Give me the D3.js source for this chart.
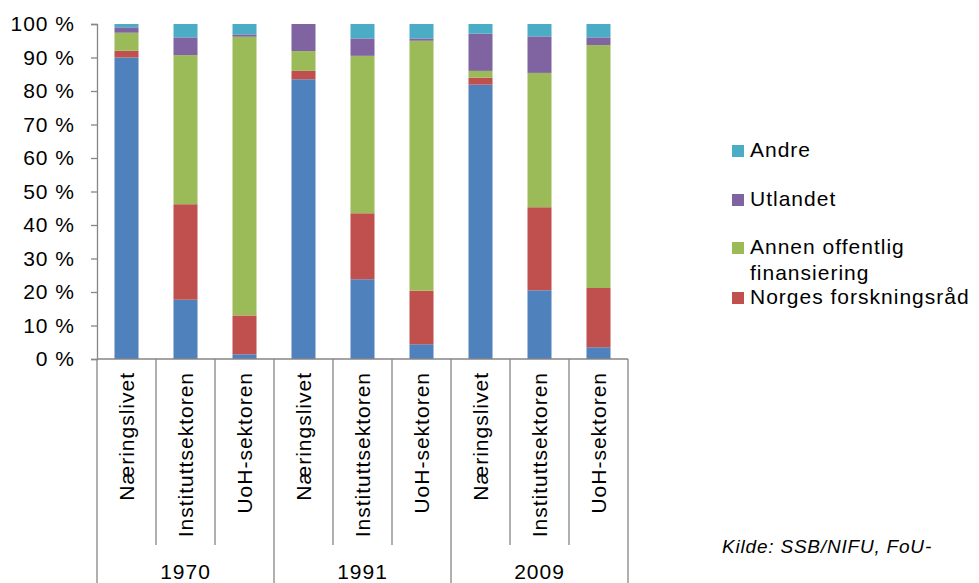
<!DOCTYPE html>
<html>
<head>
<meta charset="utf-8">
<script src="https://cdn.jsdelivr.net/npm/d3@7"></script>
<style>
  body { margin: 0; background: #fff; }
  text { font-family: "Liberation Sans", Arial, sans-serif; fill: #000; }
</style>
</head>
<body>
<div id="chart"></div>
<script>
var width = 979;
var height = 583;

// years and sectors on the two-level x axis
var years = ["1970", "1991", "2009"];
var sectors = ["Næringslivet", "Instituttsektoren", "UoH-sektoren"];

// share of funding (%), one value per bar
var naeringslivet  = [90.0, 17.7,  1.4, 83.5, 23.8,  4.4, 81.9, 20.5,  3.5];
var forskningsrad  = [ 2.0, 28.5, 11.6,  2.5, 19.7, 16.0,  2.1, 24.8, 17.7];
var annenOffentlig = [ 5.4, 44.5, 83.2,  5.9, 47.0, 74.6,  2.0, 40.1, 72.5];
var utlandet       = [ 1.6,  5.3,  0.7,  8.1,  5.2,  0.7, 11.1, 10.9,  2.3];
var andre          = [ 1.0,  4.0,  3.1,  0.0,  4.3,  4.3,  2.9,  3.7,  4.0];

var seriesNames = ["Næringslivet", "Norges forskningsråd", "Annen offentlig finansiering", "Utlandet", "Andre"];
var seriesValues = [naeringslivet, forskningsrad, annenOffentlig, utlandet, andre];
var colors = ["#4F81BD", "#C0504D", "#9BBB59", "#8064A2", "#4BACC6"];

var yTicks = [0, 10, 20, 30, 40, 50, 60, 70, 80, 90, 100];

// build rows for d3.stack
var rows = [];
years.forEach(function(yr, i) {
  sectors.forEach(function(s, j) {
    var k = i * sectors.length + j;
    var row = { key: yr + "|" + s, year: yr, sector: s };
    seriesNames.forEach(function(n, si) { row[n] = seriesValues[si][k]; });
    rows.push(row);
  });
});

var svg = d3.select("#chart").append("svg")
  .attr("width", width)
  .attr("height", height);

var x = d3.scaleBand()
  .domain(rows.map(function(d) { return d.key; }))
  .range([97, 628])
  .paddingInner(0.593)
  .paddingOuter(0.2965);

var y = d3.scaleLinear().domain([0, 1]).range([359, 24]);

var stack = d3.stack().keys(seriesNames).offset(d3.stackOffsetExpand);
var layers = stack(rows);

var axisColor = "#868686";

// bars
svg.append("g").selectAll("g")
  .data(layers)
  .join("g")
    .attr("fill", function(d, i) { return colors[i]; })
  .selectAll("rect")
  .data(function(d) { return d; })
  .join("rect")
    .attr("x", function(d) { return x(d.data.key); })
    .attr("width", x.bandwidth())
    .attr("y", function(d) { return y(d[1]); })
    .attr("height", function(d) { return Math.max(0, y(d[0]) - y(d[1])); });

// y axis
var yAxis = d3.axisLeft(d3.scaleLinear().domain([0, 100]).range([359, 24]))
  .tickValues(yTicks)
  .tickSize(6)
  .tickPadding(16)
  .tickFormat(function(d) { return d + " %"; });

var yg = svg.append("g").attr("transform", "translate(97,0)").call(yAxis);
yg.select(".domain").attr("stroke", axisColor).attr("stroke-width", 1.3);
yg.selectAll(".tick line").attr("stroke", axisColor).attr("stroke-width", 1.3);
yg.selectAll(".tick text")
  .style("font-size", "21px")
  .style("letter-spacing", "1px")
  .attr("font-family", null);

// x axis baseline
svg.append("line")
  .attr("x1", 97).attr("x2", 628)
  .attr("y1", 359).attr("y2", 359)
  .attr("stroke", axisColor).attr("stroke-width", 1.3);

// separators between bars (short) and between years (long)
var step = x.step();
d3.range(rows.length + 1).forEach(function(i) {
  var xx = x.range()[0] + i * step;
  var isGroup = i % sectors.length === 0;
  svg.append("line")
    .attr("x1", xx).attr("x2", xx)
    .attr("y1", 359).attr("y2", isGroup ? height : 545)
    .attr("stroke", axisColor).attr("stroke-width", 1.3);
});

// sector labels
svg.append("g").selectAll("text")
  .data(rows)
  .join("text")
    .attr("transform", function(d) {
      return "translate(" + (x(d.key) + x.bandwidth() / 2) + ",372) rotate(-90)";
    })
    .attr("text-anchor", "end")
    .attr("dy", "0.35em")
    .style("font-size", "21px")
    .style("letter-spacing", "1px")
    .text(function(d) { return d.sector; });

// year labels
svg.append("g").selectAll("text")
  .data(years)
  .join("text")
    .attr("x", function(d, i) { return x.range()[0] + (i + 0.5) * sectors.length * step; })
    .attr("y", 579)
    .attr("text-anchor", "middle")
    .style("font-size", "21px")
    .style("letter-spacing", "1px")
    .text(function(d) { return d; });

// legend (blue series is not shown in the original)
var legendItems = [
  { name: "Andre", idx: 4, lines: ["Andre"], y: 157 },
  { name: "Utlandet", idx: 3, lines: ["Utlandet"], y: 206 },
  { name: "Annen offentlig finansiering", idx: 2, lines: ["Annen offentlig", "finansiering"], y: 254 },
  { name: "Norges forskningsråd", idx: 1, lines: ["Norges forskningsråd"], y: 304 }
];

var lg = svg.append("g").selectAll("g")
  .data(legendItems)
  .join("g");

lg.append("rect")
  .attr("x", 732)
  .attr("y", function(d) { return d.y - 12; })
  .attr("width", 12).attr("height", 12)
  .attr("fill", function(d) { return colors[d.idx]; });

lg.append("text")
  .attr("x", 750)
  .attr("y", function(d) { return d.y; })
  .style("font-size", "21px")
  .style("letter-spacing", "1px")
  .selectAll("tspan")
  .data(function(d) { return d.lines; })
  .join("tspan")
    .attr("x", 750)
    .attr("dy", function(d, i) { return i === 0 ? 0 : 26; })
    .text(function(d) { return d; });

// source note
svg.append("text")
  .attr("x", 722)
  .attr("y", 553)
  .style("font-size", "19px")
  .style("font-style", "italic")
  .style("letter-spacing", "0.8px")
  .text("Kilde: SSB/NIFU, FoU-");
</script>
</body>
</html>
